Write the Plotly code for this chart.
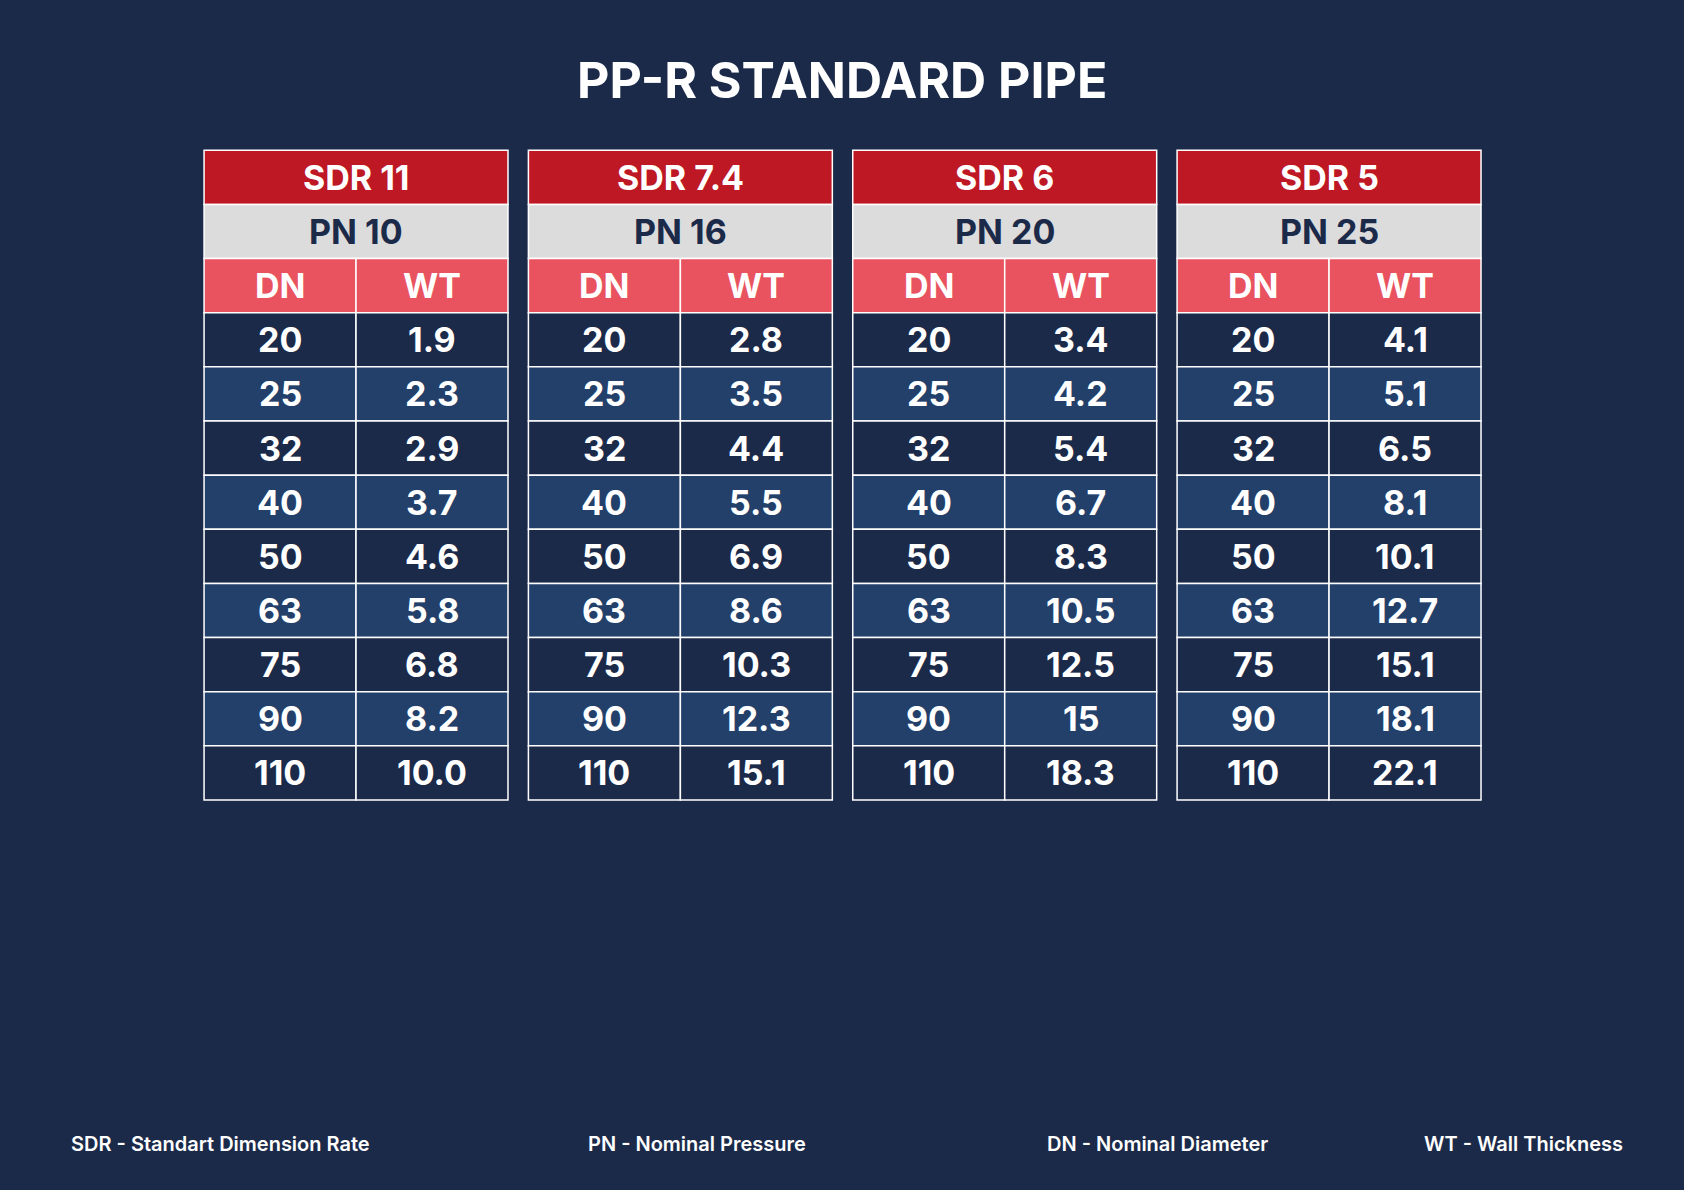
import plotly.graph_objects as go

title = "PP-R STANDARD PIPE"
sdr_labels = ["SDR 11", "SDR 7.4", "SDR 6", "SDR 5"]
pn_labels = ["PN 10", "PN 16", "PN 20", "PN 25"]
col_heads = ["DN", "WT"]
dn_values = ["20", "25", "32", "40", "50", "63", "75", "90", "110"]
wt_sdr11 = ["1.9", "2.3", "2.9", "3.7", "4.6", "5.8", "6.8", "8.2", "10.0"]
wt_sdr74 = ["2.8", "3.5", "4.4", "5.5", "6.9", "8.6", "10.3", "12.3", "15.1"]
wt_sdr6 = ["3.4", "4.2", "5.4", "6.7", "8.3", "10.5", "12.5", "15", "18.3"]
wt_sdr5 = ["4.1", "5.1", "6.5", "8.1", "10.1", "12.7", "15.1", "18.1", "22.1"]
wt_all = [wt_sdr11, wt_sdr74, wt_sdr6, wt_sdr5]
footer = ["SDR - Standart Dimension Rate", "PN - Nominal Pressure", "DN - Nominal Diameter", "WT - Wall Thickness"]

W, H = 1684, 1190
BG = "#1c2a4a"; RED = "#bd1823"; GREY = "#dcdcdc"; PINK = "#e8535f"; ALT = "#22406a"
FONT = "Inter"
s = 1684 / 1568
table_x = [190 * s, 492 * s, 794 * s, 1096 * s]
tw = 283 * s
y0 = 140 * s
rh = 50.4 * s

shapes, ann = [], []
def rect(x0, y0_, x1, y1, fill):
    shapes.append(dict(type="rect", x0=x0, x1=x1, y0=y0_, y1=y1, fillcolor=fill,
                       line=dict(color="white", width=1.5), layer="below"))
def txt(x, y, t, size, color="white"):
    ann.append(dict(x=x, y=y, text=t, showarrow=False, xanchor="center", yanchor="middle",
                    font=dict(family=FONT, size=size, color=color, weight="bold")))

for i, tx in enumerate(table_x):
    cx = tx + tw / 2
    rect(tx, y0, tx + tw, y0 + rh, RED); txt(cx, y0 + rh / 2, sdr_labels[i], 34)
    rect(tx, y0 + rh, tx + tw, y0 + 2 * rh, GREY); txt(cx, y0 + 1.5 * rh, pn_labels[i], 34, BG)
    for j, h in enumerate(col_heads):
        x0 = tx + j * tw / 2
        rect(x0, y0 + 2 * rh, x0 + tw / 2, y0 + 3 * rh, PINK)
        txt(x0 + tw / 4, y0 + 2.5 * rh, h, 34)
    for r, dn in enumerate(dn_values):
        yt = y0 + (3 + r) * rh
        fill = BG if r % 2 == 0 else ALT
        for j, v in enumerate([dn, wt_all[i][r]]):
            x0 = tx + j * tw / 2
            rect(x0, yt, x0 + tw / 2, yt + rh, fill)
            txt(x0 + tw / 4, yt + rh / 2, v, 34)

txt(W / 2, 80, title, 50)
fx = [220, 697, 1157, 1523]
for x, t in zip(fx, footer):
    ann.append(dict(x=x, y=1144, text=t, showarrow=False, xanchor="center", yanchor="middle",
                    font=dict(family=FONT, size=20, color="white", weight=600)))

fig = go.Figure()
fig.update_layout(width=W, height=H, margin=dict(l=0, r=0, t=0, b=0),
                  paper_bgcolor=BG, plot_bgcolor=BG, shapes=shapes, annotations=ann,
                  xaxis=dict(range=[0, W], visible=False, fixedrange=True),
                  yaxis=dict(range=[H, 0], visible=False, fixedrange=True),
                  showlegend=False)
fig.write_html("out.html", config={"displayModeBar": False},
               post_script="document.body.style.margin='0';document.body.style.background='#1c2a4a';")
